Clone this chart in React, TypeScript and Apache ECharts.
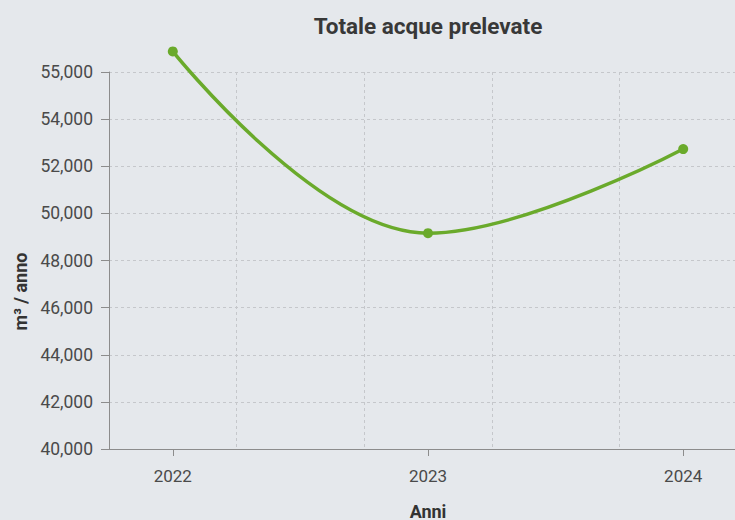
import React, { useEffect, useRef } from 'react';
import * as echarts from 'echarts';

const years = [2022, 2023, 2024];
const values = [56875, 49160, 52730];
const xTickLabels = ['2022', '2023', '2024'];
const yTickLabels = ['40,000', '42,000', '44,000', '46,000', '48,000', '50,000', '52,000', '54,000', '55,000'];
const xGridTicks = [2021.75, 2024.25];

export default function App() {
  const ref = useRef<HTMLDivElement>(null);
  useEffect(() => {
    const chart = echarts.init(ref.current as HTMLDivElement, null, { renderer: 'svg' });
    const font = 'Roboto';
    const axisColor = '#8c8c8c';
    const gridLine = { show: true, lineStyle: { color: '#c5c7cb', type: [3, 3] as any, width: 1 } };
    chart.setOption({
      animation: false,
      backgroundColor: '#e5e8ec',
      textStyle: { fontFamily: font },
      title: {
        text: 'Totale acque prelevate',
        left: 423,
        textAlign: 'center',
        top: 9,
        textStyle: { fontSize: 22.5, fontWeight: 'bold', color: '#383838', fontFamily: font },
      },
      grid: { left: 109, right: -12, top: 72, bottom: 71, containLabel: false, outerBoundsMode: 'none' },
      xAxis: [
        {
          type: 'value',
          min: xGridTicks[0],
          max: xGridTicks[1],
          interval: 0.5,
          axisLine: { show: true, lineStyle: { color: axisColor } },
          axisTick: { show: false },
          axisLabel: { show: false },
          splitLine: gridLine,
          name: 'Anni',
          nameLocation: 'middle',
          nameGap: 53,
          nameTextStyle: { fontSize: 18, fontWeight: 'bold', color: '#333', fontFamily: font },
        },
        {
          type: 'value',
          position: 'bottom',
          min: xGridTicks[0],
          max: xGridTicks[1],
          axisLine: { show: false },
          axisTick: { show: true, customValues: years, length: 7, lineStyle: { color: axisColor } },
          axisLabel: {
            customValues: years,
            formatter: (v: number) => xTickLabels[years.indexOf(Math.round(v))] ?? '',
            fontSize: 17,
            color: '#4a4a4a',
            margin: 18,
            fontFamily: font,
          },
          splitLine: { show: false },
        },
      ],
      yAxis: {
        type: 'value',
        min: 40000,
        max: 56000,
        interval: 2000,
        axisLine: { show: true, lineStyle: { color: axisColor } },
        axisTick: { show: true, length: 8, lineStyle: { color: axisColor } },
        axisLabel: {
          formatter: (v: number) => yTickLabels[Math.round((v - 40000) / 2000)] ?? '',
          fontSize: 17.5,
          color: '#4a4a4a',
          margin: 16,
          fontFamily: font,
        },
        splitLine: gridLine,
        name: 'm³ / anno',
        nameLocation: 'middle',
        nameGap: 80,
        nameTextStyle: { fontSize: 18, fontWeight: 'bold', color: '#333', fontFamily: font, padding: [0, 62, 0, 0] },
      },
      series: [
        {
          type: 'line',
          xAxisIndex: 0,
          data: years.map((y, i) => [y, values[i]]),
          smooth: 0.4,
          clip: false,
          symbol: 'circle',
          symbolSize: 10,
          lineStyle: { color: '#6aaa2b', width: 3.5 },
          itemStyle: { color: '#6aaa2b' },
        },
      ],
    });
    return () => chart.dispose();
  }, []);
  return <div ref={ref} style={{ position: 'fixed', left: 0, top: 0, width: 735, height: 520 }} />;
}
